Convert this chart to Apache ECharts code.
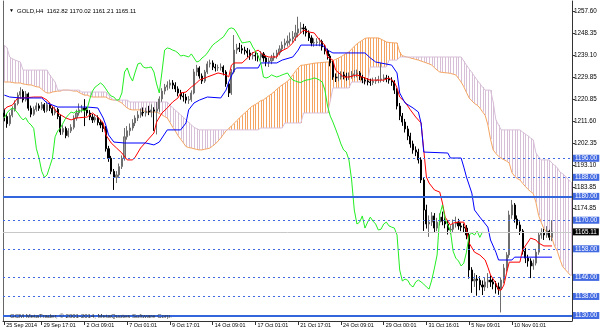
<!DOCTYPE html>
<html><head><meta charset="utf-8">
<script src="https://cdn.jsdelivr.net/npm/echarts@6/dist/echarts.min.js"></script>
<style>html,body{margin:0;padding:0;background:#fff}#c{width:600px;height:333px}</style>
</head><body><div id="c"></div>
<script>
// ---- DATA ----
const symbolTitle = 'GOLD,H4  1162.82 1170.02 1161.21 1165.11';
const copyright = 'GCM MetaTrader, \u00a9 2001-2014, MetaQuotes Software Corp.';
const totalSlots = 213;
const timeTickIdx = [0,14,30,46,62,78,94,110,126,142,158,174,190];
const timeTickText = ['25 Sep 2014','29 Sep 17:01','2 Oct 09:01','7 Oct 01:01','9 Oct 17:01','14 Oct 09:01','17 Oct 01:01','21 Oct 17:01','24 Oct 09:01','29 Oct 00:01','31 Oct 16:01','5 Nov 09:01','10 Nov 01:01'];
const priceTicks = [1257.60,1248.35,1239.10,1229.85,1220.85,1211.60,1202.35,1193.10,1183.85,1174.85];
const dashedLevels = [1196,1188,1170,1158,1146,1138];
const solidLevels = [1180,1130];
const bidPrice = 1165.11;
// [open, close, low, high]
const candles = [
[1215.0,1213.5,1211.5,1216.8],[1213.5,1210.5,1208.8,1214.6],[1210.5,1214.0,1209.6,1215.2],[1214.0,1216.5,1213.2,1217.8],[1216.5,1219.0,1215.6,1220.3],
[1219.0,1222.5,1218.2,1223.6],[1222.5,1224.0,1221.0,1225.8],[1224.0,1220.5,1219.4,1224.9],[1220.5,1223.0,1219.8,1224.2],[1223.0,1217.0,1216.0,1223.6],
[1217.0,1214.5,1213.2,1218.1],[1214.5,1216.5,1213.8,1217.7],[1216.5,1218.0,1215.6,1219.4],[1218.0,1217.0,1215.9,1219.0],[1217.0,1218.5,1216.2,1219.6],
[1218.5,1216.0,1215.1,1219.2],[1216.0,1218.5,1215.3,1219.8],[1218.5,1217.0,1215.8,1219.4],[1217.0,1215.0,1213.9,1217.9],[1215.0,1216.5,1214.1,1217.6],
[1216.5,1213.5,1212.4,1217.2],[1213.5,1207.0,1205.8,1214.2],[1207.0,1208.5,1205.9,1209.9],[1208.5,1205.5,1204.4,1209.3],[1205.5,1207.5,1204.8,1208.6],
[1207.5,1209.0,1206.6,1210.3],[1209.0,1212.9,1208.1,1214.0],[1212.9,1215.0,1211.8,1216.4],[1215.0,1216.3,1213.9,1219.0],[1216.3,1217.1,1215.2,1218.4],
[1217.1,1216.3,1209.5,1220.8],[1216.3,1215.0,1213.8,1217.5],[1215.0,1213.3,1212.0,1216.2],[1213.3,1212.1,1210.8,1214.6],[1212.1,1213.0,1211.0,1214.3],
[1213.0,1211.0,1209.8,1214.0],[1211.0,1210.0,1208.6,1212.2],[1210.0,1208.5,1207.0,1211.3],[1208.5,1200.0,1198.8,1209.5],[1200.0,1196.0,1194.5,1201.2],
[1196.0,1190.5,1189.3,1197.0],[1190.5,1188.0,1182.7,1191.5],[1188.0,1189.0,1185.6,1190.6],[1189.0,1192.5,1188.2,1193.8],[1192.5,1196.0,1191.5,1197.2],
[1196.0,1205.0,1195.0,1208.7],[1205.0,1207.5,1203.8,1209.5],[1207.5,1208.7,1205.5,1210.6],[1208.7,1210.8,1207.6,1212.4],[1210.8,1212.9,1209.5,1214.0],
[1212.9,1214.2,1211.6,1215.8],[1214.2,1215.4,1213.0,1216.9],[1215.4,1215.0,1213.6,1217.3],[1215.0,1215.8,1213.5,1217.2],[1215.8,1215.4,1214.1,1218.0],
[1215.4,1216.3,1213.2,1218.6],[1216.3,1215.8,1207.5,1217.4],[1215.8,1216.7,1206.0,1219.6],[1216.7,1220.9,1215.5,1222.0],[1220.9,1224.2,1219.7,1225.4],
[1224.2,1225.9,1222.8,1227.2],[1225.9,1226.7,1224.5,1228.3],[1226.7,1227.6,1225.2,1229.0],[1227.6,1226.7,1225.0,1228.8],[1226.7,1225.1,1223.8,1227.9],
[1225.1,1223.4,1222.0,1226.2],[1223.4,1222.1,1220.6,1224.7],[1222.1,1221.7,1219.8,1223.5],[1221.7,1220.4,1219.0,1223.0],[1220.4,1220.6,1218.8,1222.1],
[1220.6,1223.4,1219.7,1224.5],[1223.4,1232.2,1222.8,1233.5],[1232.2,1233.9,1230.6,1235.2],[1233.9,1230.5,1229.4,1234.6],[1230.5,1228.4,1227.2,1231.6],
[1228.4,1232.2,1227.6,1233.1],[1232.2,1235.6,1231.4,1236.7],[1235.6,1236.0,1234.1,1237.4],[1236.0,1234.3,1233.0,1237.1],[1234.3,1233.9,1232.4,1235.6],
[1233.9,1234.1,1232.6,1235.3],[1234.1,1234.3,1232.8,1235.8],[1234.3,1232.2,1230.8,1235.0],[1232.2,1227.2,1226.0,1233.0],[1227.2,1223.4,1221.7,1228.0],
[1223.4,1232.2,1222.6,1233.4],[1232.2,1241.4,1231.5,1247.7],[1241.4,1242.3,1239.8,1244.0],[1242.3,1242.0,1240.6,1244.4],[1242.0,1241.4,1239.9,1243.6],
[1241.4,1241.0,1239.5,1242.8],[1241.0,1240.2,1238.4,1242.3],[1240.2,1238.9,1237.3,1241.6],[1238.9,1239.2,1237.5,1240.6],[1239.2,1238.9,1236.9,1240.5],
[1238.9,1238.5,1236.6,1240.1],[1238.5,1239.8,1237.0,1241.0],[1239.8,1238.1,1236.5,1240.6],[1238.1,1236.4,1234.6,1239.0],[1236.4,1236.8,1234.3,1238.2],
[1236.8,1238.1,1235.5,1239.4],[1238.1,1238.9,1236.9,1240.3],[1238.9,1240.2,1237.8,1241.5],[1240.2,1241.9,1239.2,1243.4],[1241.9,1243.5,1240.6,1245.0],
[1243.5,1244.4,1242.0,1246.2],[1244.4,1245.2,1242.9,1247.5],[1245.2,1246.1,1243.6,1248.8],[1246.1,1246.9,1244.5,1249.4],[1246.9,1248.6,1245.2,1252.0],
[1248.6,1250.3,1246.8,1255.4],[1250.3,1250.7,1248.3,1253.1],[1250.7,1250.3,1248.0,1252.4],[1250.3,1248.6,1247.1,1251.5],[1248.6,1246.5,1245.2,1249.7],
[1246.5,1244.4,1243.0,1247.6],[1244.4,1244.6,1242.8,1246.3],[1244.6,1244.8,1243.1,1246.4],[1244.8,1245.0,1243.0,1246.5],[1245.0,1242.7,1241.2,1245.8],
[1242.7,1241.0,1239.6,1243.6],[1241.0,1238.9,1237.4,1242.0],[1238.9,1236.0,1234.6,1239.8],[1236.0,1230.1,1228.9,1236.8],[1230.1,1229.7,1228.0,1231.6],
[1229.7,1230.1,1228.3,1231.8],[1230.1,1231.0,1229.0,1232.5],[1231.0,1230.5,1229.1,1232.3],[1230.5,1230.1,1228.6,1231.9],[1230.1,1230.5,1228.9,1232.0],
[1230.5,1231.0,1229.4,1232.6],[1231.0,1231.4,1229.8,1233.0],[1231.4,1231.8,1230.0,1233.2],[1231.8,1230.1,1228.8,1232.6],[1230.1,1228.8,1227.5,1231.0],
[1228.8,1228.4,1227.0,1230.0],[1228.4,1228.0,1226.6,1229.6],[1228.0,1227.8,1226.4,1229.4],[1227.8,1228.4,1226.7,1229.8],[1228.4,1228.8,1227.2,1230.1],
[1228.8,1229.0,1227.5,1230.6],[1229.0,1229.3,1227.8,1236.0],[1229.3,1229.7,1228.0,1231.2],[1229.7,1229.4,1227.9,1231.0],[1229.4,1228.8,1227.3,1230.6],
[1228.8,1228.0,1226.4,1230.0],[1228.0,1224.6,1223.0,1228.8],[1224.6,1217.9,1216.5,1225.4],[1217.9,1213.7,1212.0,1219.2],[1213.7,1211.2,1209.6,1215.0],
[1211.2,1208.3,1206.8,1212.5],[1208.3,1205.3,1203.6,1209.6],[1205.3,1202.0,1200.4,1206.7],[1202.0,1199.5,1197.9,1203.4],[1199.5,1198.6,1196.9,1201.0],
[1198.6,1195.3,1193.8,1200.0],[1195.3,1186.9,1185.6,1196.4],[1186.9,1174.3,1165.5,1188.0],[1174.3,1168.4,1166.5,1176.5],[1168.4,1169.2,1163.0,1172.0],
[1169.2,1171.8,1167.6,1173.4],[1171.8,1166.7,1165.0,1173.0],[1166.7,1169.2,1165.4,1171.0],[1169.2,1171.3,1167.8,1172.9],[1171.3,1169.6,1167.9,1173.6],
[1169.6,1168.4,1166.6,1171.2],[1168.4,1165.9,1164.0,1170.0],[1165.9,1166.2,1164.1,1167.8],[1166.2,1168.4,1165.0,1170.3],[1168.4,1169.2,1166.9,1171.5],
[1169.2,1167.6,1166.0,1170.6],[1167.6,1167.1,1165.4,1169.0],[1167.1,1166.7,1164.7,1168.6],[1166.7,1163.8,1162.0,1168.0],[1163.8,1149.1,1145.5,1164.6],
[1149.1,1144.5,1139.5,1150.3],[1144.5,1145.3,1142.0,1147.8],[1145.3,1144.8,1138.3,1147.0],[1144.8,1142.8,1140.6,1146.5],[1142.8,1142.0,1138.6,1144.7],
[1142.0,1144.1,1140.3,1146.0],[1144.1,1144.9,1141.5,1147.8],[1144.9,1144.1,1142.0,1146.9],[1144.1,1143.2,1141.0,1145.6],[1143.2,1142.0,1139.2,1144.5],
[1142.0,1141.1,1138.7,1143.8],[1141.1,1144.9,1131.3,1146.0],[1144.9,1149.9,1143.5,1151.6],[1149.9,1155.4,1148.4,1156.6],[1155.4,1172.2,1154.2,1174.0],
[1172.2,1176.4,1170.6,1178.5],[1176.4,1170.5,1169.0,1177.2],[1170.5,1168.0,1166.4,1172.0],[1168.0,1165.5,1163.8,1169.5],[1165.5,1157.0,1155.6,1166.3],
[1157.0,1154.1,1152.0,1158.4],[1154.1,1152.9,1150.5,1155.5],[1152.9,1150.8,1145.7,1154.0],[1150.8,1152.0,1149.2,1153.5],[1152.0,1156.6,1151.0,1158.0],
[1156.6,1163.8,1155.5,1165.0],[1163.8,1164.6,1162.2,1166.6],[1164.6,1163.8,1161.7,1166.4],[1163.8,1165.4,1162.6,1167.5],[1165.4,1162.8,1161.6,1166.0],
[1162.82,1165.11,1161.21,1170.02]
];
// Ichimoku lines: [barIndex, price]
const tenkan = [[0,1216.3],[1,1217.5],[3,1218.3],[5,1221.3],[7,1221.3],[11,1221.7],[14,1221.7],[16,1220.4],[20,1215.0],[23,1212.9],[25,1212.1],[27,1212.9],[31,1213.3],[33,1215.0],[35,1213.3],[37,1210.8],[38,1205.8],[40,1202.4],[42,1200.3],[44,1198.2],[46,1195.3],[48,1195.3],[49,1196.5],[51,1200.3],[53,1202.8],[56,1206.6],[57,1211.2],[59,1215.0],[61,1217.1],[63,1219.6],[65,1221.3],[66,1223.4],[68,1223.8],[70,1225.9],[72,1227.6],[73,1228.8],[76,1230.1],[80,1231.8],[83,1231.0],[84,1230.1],[85,1235.1],[86,1236.0],[89,1236.0],[93,1240.2],[95,1241.4],[97,1239.3],[99,1238.5],[102,1238.5],[103,1240.6],[106,1242.3],[108,1244.4],[109,1246.5],[111,1248.6],[112,1249.8],[114,1249.0],[116,1248.6],[118,1245.6],[120,1243.5],[121,1238.5],[123,1237.2],[124,1233.0],[127,1230.1],[129,1230.1],[132,1231.0],[134,1230.1],[137,1228.8],[142,1228.8],[144,1229.7],[146,1228.0],[147,1225.5],[148,1221.7],[150,1219.6],[152,1216.3],[154,1213.3],[156,1210.8],[157,1199.5],[158,1188.1],[159,1185.6],[161,1182.7],[163,1181.8],[164,1177.2],[165,1171.3],[167,1168.0],[168,1168.8],[170,1169.2],[172,1169.2],[173,1165.9],[174,1160.4],[176,1156.6],[178,1155.4],[180,1153.3],[181,1150.3],[182,1147.0],[184,1143.6],[185,1140.7],[186,1140.7],[187,1142.8],[188,1147.8],[189,1152.4],[193,1152.4],[194,1157.5],[196,1160.8],[197,1162.5],[199,1161.7],[200,1160.4],[202,1159.2],[205,1159.2]];
const kijun = [[0,1222.5],[2,1221.7],[6,1221.3],[14,1221.3],[16,1219.2],[20,1217.5],[31,1217.5],[35,1217.1],[36,1215.0],[37,1212.9],[38,1209.9],[39,1205.8],[41,1202.8],[45,1202.4],[53,1202.4],[56,1201.6],[58,1202.8],[61,1207.9],[66,1207.9],[68,1210.8],[69,1216.3],[71,1219.2],[73,1220.4],[76,1221.7],[81,1221.3],[83,1224.6],[84,1228.0],[86,1233.0],[87,1233.9],[95,1233.9],[96,1236.0],[102,1236.0],[104,1237.2],[108,1238.5],[110,1241.4],[111,1243.5],[119,1243.5],[121,1241.4],[123,1240.2],[135,1240.2],[137,1238.1],[139,1236.4],[145,1235.1],[147,1231.8],[148,1223.4],[150,1219.2],[153,1217.1],[155,1215.4],[156,1210.8],[157,1198.6],[166,1198.2],[167,1196.1],[171,1196.1],[172,1192.3],[173,1188.1],[175,1181.4],[176,1174.3],[178,1171.3],[181,1167.1],[182,1161.7],[184,1156.6],[185,1153.3],[190,1153.3],[191,1154.5],[205,1154.5]];
const senkouA = [1228.0,1228.0,1228.0,1227.8,1227.6,1227.6,1227.6,1227.2,1227.0,1226.8,
1226.8,1226.4,1226.0,1225.9,1225.0,1224.0,1223.4,1223.4,1223.8,1224.0,
1224.2,1224.2,1224.6,1224.6,1224.6,1224.4,1224.2,1224.2,1223.6,1223.0,
1222.5,1222.5,1222.0,1221.7,1221.7,1221.7,1221.7,1221.7,1221.7,1221.0,
1220.6,1220.4,1220.4,1219.8,1219.2,1218.0,1217.1,1216.5,1216.3,1216.3,
1216.3,1216.3,1216.0,1215.4,1215.4,1215.4,1215.4,1215.4,1214.8,1214.2,
1213.5,1212.9,1211.0,1209.1,1207.5,1205.5,1204.0,1202.5,1200.9,1200.5,
1200.3,1200.0,1199.7,1199.5,1199.5,1199.8,1200.0,1200.3,1201.2,1202.0,
1203.2,1204.5,1206.0,1207.5,1208.5,1209.5,1210.6,1211.8,1212.9,1214.0,
1215.0,1216.0,1217.2,1218.0,1218.6,1219.3,1220.2,1220.5,1221.4,1222.2,
1223.0,1223.9,1225.0,1225.9,1226.8,1227.5,1228.3,1229.5,1231.0,1232.5,
1234.0,1235.0,1235.1,1235.3,1235.5,1235.7,1235.9,1236.0,1236.1,1236.2,
1236.3,1236.4,1236.5,1237.0,1237.5,1238.0,1238.6,1239.3,1240.0,1240.6,
1241.8,1243.0,1244.0,1244.8,1245.5,1246.3,1246.5,1246.5,1246.5,1246.5,
1246.5,1246.0,1245.4,1244.8,1244.6,1244.5,1244.4,1244.4,1240.5,1239.0,
1238.7,1238.4,1238.1,1237.8,1237.5,1237.2,1236.8,1236.4,1236.0,1235.6,
1235.1,1234.0,1233.0,1232.2,1232.0,1231.9,1231.8,1231.6,1231.3,1231.0,
1229.5,1228.0,1226.0,1223.6,1221.3,1220.1,1219.0,1218.3,1217.1,1215.5,
1214.0,1210.0,1204.0,1199.5,1198.0,1196.8,1196.0,1195.4,1194.8,1194.0,
1190.0,1188.5,1187.5,1186.9,1185.5,1184.2,1183.0,1182.0,1181.2,1177.5,
1172.0,1169.0,1166.5,1165.0,1163.8,1162.5,1159.0,1157.0,1153.5,1150.5,
1149.3,1148.0,1146.8];
const senkouB = [1243.5,1242.3,1238.5,1237.8,1237.2,1236.8,1236.4,1233.0,1233.0,1233.0,
1233.0,1233.0,1233.0,1233.0,1233.0,1233.0,1233.0,1230.9,1229.5,1228.0,
1224.6,1224.6,1224.6,1224.6,1224.6,1224.6,1224.6,1224.6,1224.6,1223.8,
1223.8,1223.8,1223.8,1223.8,1223.8,1223.8,1223.8,1223.8,1223.8,1222.5,
1221.3,1220.4,1220.4,1220.4,1220.4,1220.4,1220.4,1219.6,1219.6,1219.6,
1219.6,1219.6,1219.6,1219.6,1219.6,1219.6,1219.6,1219.6,1219.6,1219.6,
1219.6,1219.6,1218.3,1217.2,1216.2,1215.2,1214.2,1213.2,1212.1,1211.0,
1210.0,1209.0,1208.4,1207.9,1207.9,1207.9,1207.9,1207.9,1207.9,1207.9,
1207.9,1207.9,1207.9,1207.9,1207.9,1207.9,1207.9,1207.9,1207.9,1207.9,
1207.9,1207.9,1207.9,1207.9,1207.9,1207.9,1208.7,1208.7,1208.7,1208.7,
1208.7,1208.7,1208.7,1208.7,1208.7,1210.8,1210.8,1210.8,1210.8,1210.8,
1210.8,1210.8,1215.0,1215.0,1215.0,1215.0,1215.0,1215.0,1215.0,1215.0,
1215.0,1215.0,1220.0,1225.5,1225.5,1225.5,1225.5,1225.5,1225.5,1225.5,
1228.0,1228.0,1228.0,1228.0,1228.0,1228.0,1228.0,1234.3,1234.3,1234.3,
1234.3,1234.3,1234.3,1234.3,1237.2,1237.2,1237.2,1237.2,1238.5,1238.5,
1238.5,1238.5,1238.5,1238.5,1238.5,1238.5,1238.5,1238.5,1238.5,1238.5,
1238.5,1238.5,1238.5,1238.5,1238.5,1238.5,1238.5,1238.5,1238.5,1238.5,
1238.5,1238.5,1236.8,1235.1,1233.5,1232.0,1230.4,1228.8,1227.3,1225.9,
1224.6,1224.6,1224.6,1219.6,1212.1,1210.0,1207.9,1207.9,1207.9,1207.9,
1207.9,1207.9,1207.9,1207.9,1207.0,1206.2,1205.4,1204.5,1203.7,1198.2,
1196.5,1195.3,1195.3,1195.3,1195.3,1194.0,1193.0,1192.0,1190.2,1189.5,
1188.5,1187.2,1186.0];
const chikouShift = 26;

// ---- CHART ----
const FONT = 'Liberation Sans, Arial, sans-serif';
const YMIN = 1127.7, YMAX = 1262.0;
const cats = Array.from({length: totalSlots}, (_, i) => String(i));
const tickMap = {};
timeTickIdx.forEach((k, n) => tickMap[k] = timeTickText[n]);
const showTick = (i) => tickMap[i] !== undefined;

const cloud = senkouA.map((a, i) => [i, a, senkouB[i]]);
const chikou = candles.slice(chikouShift).map((c, i) => [i, c[1]]);

const levelLabel = (bg) => ({
  show: true, position: 'end', distance: 1, formatter: p => Number(p.value).toFixed(2),
  backgroundColor: bg, color: '#fff', fontSize: 6.3, fontFamily: FONT, padding: [1, 2, 0, 2]
});
const markData = [];
dashedLevels.forEach(v => markData.push({yAxis: v, lineStyle: {type: [2, 3], color: '#4169e1', width: 1}, label: levelLabel('#4169e1')}));
solidLevels.forEach(v => markData.push({yAxis: v, lineStyle: {type: 'solid', color: '#3366dd', width: 2}, label: levelLabel('#4169e1')}));
markData.push({yAxis: bidPrice, lineStyle: {type: 'solid', color: '#c8c8c8', width: 1}, label: levelLabel('#000')});

const chart = echarts.init(document.getElementById('c'), null, {renderer: 'canvas'});
chart.setOption({
  animation: false,
  backgroundColor: '#fff',
  title: [
    {text: '\u25BC', left: 4, top: 3, textStyle: {fontSize: 5, color: '#000', fontWeight: 'normal', fontFamily: FONT}},
    {text: symbolTitle, left: 12, top: 3, textStyle: {fontSize: 6, color: '#000', fontWeight: 'normal', fontFamily: FONT}},
    {text: copyright, left: 5, top: 308, textStyle: {fontSize: 6, color: '#333', fontWeight: 'normal', fontFamily: FONT}}
  ],
  grid: {left: 3, right: 28, top: 1, bottom: 12, containLabel: false},
  xAxis: {
    type: 'category', data: cats, boundaryGap: true,
    axisLine: {show: true, lineStyle: {color: '#333', width: 1}},
    axisTick: {show: true, alignWithLabel: true, interval: (i) => showTick(i), length: 4, lineStyle: {color: '#333'}},
    axisLabel: {interval: (i) => showTick(i), formatter: (v, i) => tickMap[i] || '', align: 'left', fontSize: 5.4, color: '#000', margin: 2, padding: [0, 0, 0, 2], fontFamily: FONT},
    splitLine: {show: false}
  },
  yAxis: [
    {type: 'value', position: 'right', min: YMIN, max: YMAX,
     splitLine: {show: false},
     axisLine: {show: true, lineStyle: {color: '#333', width: 1}},
     axisTick: {show: true, customValues: priceTicks, length: 3, lineStyle: {color: '#333'}},
     axisLabel: {customValues: priceTicks, formatter: v => Number(v).toFixed(2), fontSize: 6.3, color: '#000', margin: 2, fontFamily: FONT}},
    {type: 'value', position: 'left', min: YMIN, max: YMAX,
     splitLine: {show: false}, axisLabel: {show: false}, axisTick: {show: false},
     axisLine: {show: true, lineStyle: {color: '#666', width: 1}}}
  ],
  series: [
    {type: 'custom', name: 'cloud', z: 1, silent: true, data: cloud, encode: {x: 0, y: [1, 2]},
     renderItem: (params, api) => {
       const i = api.value(0), a = api.value(1), b = api.value(2);
       const p1 = api.coord([i, a]), p2 = api.coord([i, b]);
       const x = Math.round(p1[0]) + 0.5;
       return {type: 'line', shape: {x1: x, y1: p1[1], x2: x, y2: p2[1]},
               style: {stroke: a >= b ? '#f4a460' : '#d8bfd8', lineWidth: 1}};
     }},
    {type: 'line', name: 'Senkou A', z: 2, data: senkouA.map((v, i) => [i, v]), symbol: 'none', lineStyle: {color: '#f4a460', width: 1}},
    {type: 'line', name: 'Senkou B', z: 2, data: senkouB.map((v, i) => [i, v]), symbol: 'none', lineStyle: {color: '#d8bfd8', width: 1}},
    {type: 'candlestick', name: 'GOLD', z: 3, data: candles, barWidth: 1.6,
     itemStyle: {color: '#9a9a9a', color0: '#000', borderColor: '#6e6e6e', borderColor0: '#000', borderWidth: 1},
     markLine: {silent: true, symbol: 'none', animation: false, data: markData}},
    {type: 'line', name: 'Tenkan', z: 4, data: tenkan, symbol: 'none', lineStyle: {color: '#ff0000', width: 1}},
    {type: 'line', name: 'Kijun', z: 4, data: kijun, symbol: 'none', lineStyle: {color: '#0000ff', width: 1}},
    {type: 'line', name: 'Chikou', z: 4, data: chikou, symbol: 'none', lineStyle: {color: '#22ee22', width: 1}}
  ]
});
</script></body></html>
